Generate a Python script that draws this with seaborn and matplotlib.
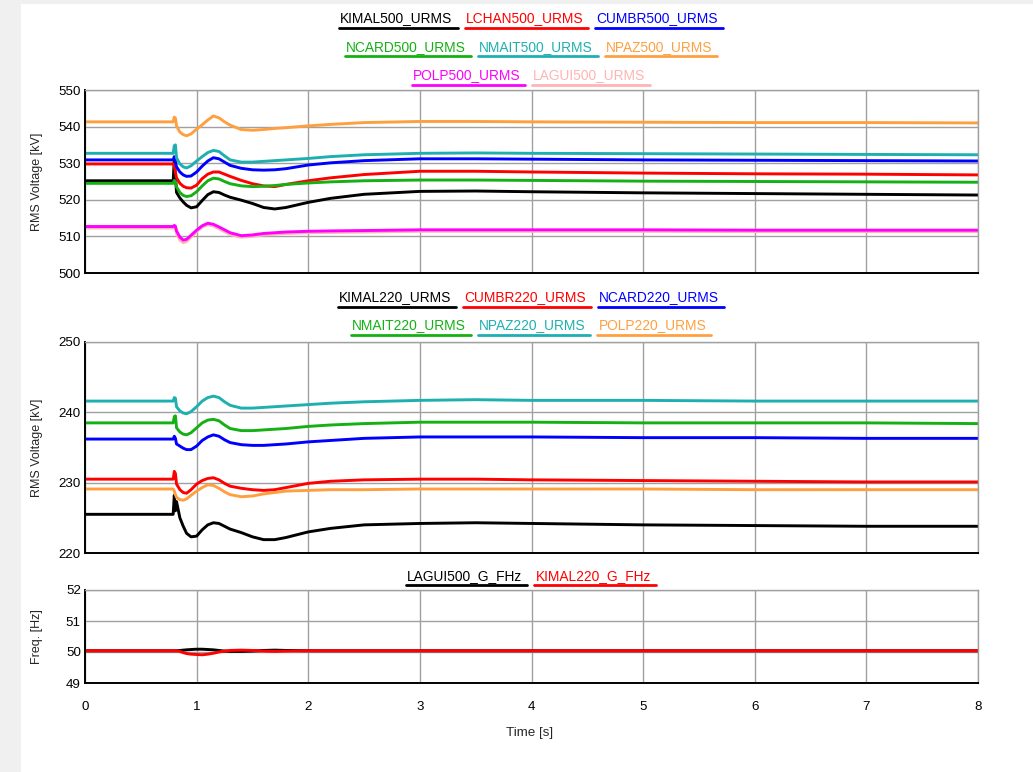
import numpy as np
import pandas as pd
import matplotlib
matplotlib.use("Agg")
import matplotlib.pyplot as plt
from matplotlib.lines import Line2D
from matplotlib.patches import Rectangle
import seaborn as sns

sns.set_style("white")
plt.rcParams['font.family'] = ['Liberation Sans', 'DejaVu Sans']

# ---------------- data ----------------
time_s = [0, 0.79, 0.80, 0.81, 0.82, 0.85, 0.88, 0.91, 0.95, 1.00, 1.05, 1.10, 1.15, 1.20,
          1.25, 1.30, 1.40, 1.50, 1.60, 1.70, 1.80, 2.00, 2.20, 2.50, 3.00, 3.50, 4.00,
          5.00, 6.00, 7.00, 8.00]

# 500 kV buses
KIMAL500 = [525.2, 525.2, 531.0, 526.5, 522.0, 520.5, 519.4, 518.5, 517.8, 518.1, 519.8, 521.4, 522.2, 522.0,
            521.3, 520.7, 519.9, 519.0, 517.9, 517.5, 517.9, 519.3, 520.4, 521.5, 522.3, 522.4, 522.2,
            521.9, 521.7, 521.5, 521.3]
LCHAN500 = [529.8, 529.8, 529.2, 527.5, 526.0, 524.5, 523.7, 523.3, 523.2, 524.0, 525.8, 527.0, 527.6, 527.6,
            527.0, 526.4, 525.3, 524.4, 523.8, 523.6, 524.2, 525.2, 526.0, 526.9, 527.8, 527.8, 527.6,
            527.3, 527.1, 527.0, 526.8]
CUMBR500 = [530.9, 530.9, 531.8, 530.5, 529.0, 527.6, 526.8, 526.4, 526.5, 527.6, 529.2, 530.6, 531.5, 531.2,
            530.3, 529.4, 528.6, 528.2, 528.1, 528.2, 528.5, 529.5, 530.1, 530.7, 531.2, 531.2, 531.1,
            530.9, 530.8, 530.7, 530.6]
NCARD500 = [524.5, 524.5, 525.3, 525.0, 523.5, 522.0, 521.2, 520.9, 521.1, 522.2, 523.8, 525.2, 525.9, 525.7,
            525.0, 524.4, 523.8, 523.6, 523.7, 523.9, 524.2, 524.6, 524.9, 525.2, 525.4, 525.4, 525.3,
            525.1, 525.0, 524.9, 524.8]
NMAIT500 = [532.7, 532.7, 534.8, 535.0, 531.5, 529.8, 529.0, 528.7, 529.3, 530.6, 531.8, 532.9, 533.5, 533.2,
            532.0, 530.9, 530.3, 530.3, 530.5, 530.7, 530.9, 531.3, 531.8, 532.3, 532.7, 532.8, 532.7,
            532.6, 532.5, 532.4, 532.3]
NPAZ500 = [541.3, 541.3, 542.6, 542.3, 540.2, 538.5, 537.8, 537.5, 538.0, 539.3, 540.5, 541.8, 542.9, 542.4,
           541.3, 540.4, 539.2, 539.0, 539.2, 539.5, 539.7, 540.2, 540.6, 541.1, 541.4, 541.4, 541.3,
           541.2, 541.1, 541.1, 541.0]
POLP500 = [512.7, 512.7, 513.0, 512.8, 511.5, 509.8, 509.0, 509.2, 510.3, 511.7, 512.9, 513.6, 513.3, 512.6,
           511.8, 511.0, 510.2, 510.4, 510.8, 511.0, 511.2, 511.4, 511.5, 511.6, 511.8, 511.8, 511.8,
           511.8, 511.7, 511.7, 511.7]
LAGUI500 = [512.3, 512.3, 512.8, 512.2, 510.8, 509.0, 508.3, 508.6, 509.8, 511.3, 512.6, 513.2, 512.9, 512.1,
            511.3, 510.5, 509.8, 510.0, 510.4, 510.6, 510.8, 511.0, 511.1, 511.2, 511.4, 511.4, 511.4,
            511.4, 511.3, 511.3, 511.3]

# 220 kV buses
KIMAL220 = [225.5, 225.5, 228.2, 226.0, 227.3, 225.0, 223.8, 222.8, 222.3, 222.4, 223.3, 224.0, 224.3, 224.2,
            223.8, 223.4, 222.9, 222.3, 221.9, 221.9, 222.2, 223.0, 223.5, 224.0, 224.2, 224.3, 224.2,
            224.0, 223.9, 223.8, 223.8]
CUMBR220 = [230.5, 230.5, 231.6, 231.3, 229.8, 229.0, 228.6, 228.5, 229.0, 229.8, 230.3, 230.6, 230.7, 230.4,
            229.9, 229.5, 229.2, 229.0, 228.9, 229.0, 229.3, 229.9, 230.2, 230.4, 230.5, 230.5, 230.4,
            230.3, 230.2, 230.1, 230.1]
NCARD220 = [236.2, 236.2, 236.6, 236.3, 235.5, 235.2, 234.9, 234.7, 234.7, 235.2, 236.0, 236.5, 236.8, 236.6,
            236.1, 235.7, 235.4, 235.3, 235.3, 235.4, 235.5, 235.8, 236.0, 236.3, 236.5, 236.5, 236.5,
            236.4, 236.4, 236.3, 236.3]
NMAIT220 = [238.5, 238.5, 239.4, 239.5, 237.8, 237.2, 236.9, 236.8, 237.1, 237.8, 238.5, 238.9, 239.0, 238.8,
            238.2, 237.7, 237.4, 237.4, 237.5, 237.6, 237.7, 238.0, 238.2, 238.4, 238.6, 238.6, 238.6,
            238.5, 238.5, 238.5, 238.4]
NPAZ220 = [241.6, 241.6, 242.1, 242.0, 240.8, 240.2, 239.9, 239.8, 240.1, 240.8, 241.6, 242.1, 242.3, 242.1,
           241.5, 241.0, 240.6, 240.6, 240.7, 240.8, 240.9, 241.1, 241.3, 241.5, 241.7, 241.8, 241.7,
           241.7, 241.6, 241.6, 241.6]
POLP220 = [229.1, 229.1, 228.8, 228.3, 227.9, 227.6, 227.5, 227.7, 228.2, 228.8, 229.3, 229.7, 229.6, 229.2,
           228.7, 228.3, 228.0, 228.1, 228.4, 228.6, 228.8, 228.9, 229.0, 229.0, 229.1, 229.1, 229.1,
           229.1, 229.0, 229.0, 229.0]

# frequencies
LAGUI500_G_FHz = [50.04, 50.04, 50.04, 50.04, 50.04, 50.05, 50.06, 50.07, 50.08, 50.09, 50.09, 50.08, 50.07, 50.05,
                  50.03, 50.02, 50.02, 50.03, 50.05, 50.06, 50.05, 50.04, 50.04, 50.04, 50.04, 50.04, 50.04,
                  50.04, 50.04, 50.04, 50.04]
KIMAL220_G_FHz = [50.04, 50.04, 50.04, 50.04, 50.04, 50.02, 49.98, 49.95, 49.93, 49.92, 49.91, 49.93, 49.96, 50.00,
                  50.03, 50.05, 50.06, 50.05, 50.03, 50.02, 50.03, 50.04, 50.04, 50.04, 50.04, 50.04, 50.04,
                  50.04, 50.04, 50.04, 50.04]

panel1 = {"KIMAL500_URMS": KIMAL500, "LCHAN500_URMS": LCHAN500, "CUMBR500_URMS": CUMBR500,
          "NCARD500_URMS": NCARD500, "NMAIT500_URMS": NMAIT500, "NPAZ500_URMS": NPAZ500,
          "POLP500_URMS": POLP500, "LAGUI500_URMS": LAGUI500}
panel2 = {"KIMAL220_URMS": KIMAL220, "CUMBR220_URMS": CUMBR220, "NCARD220_URMS": NCARD220,
          "NMAIT220_URMS": NMAIT220, "NPAZ220_URMS": NPAZ220, "POLP220_URMS": POLP220}
panel3 = {"LAGUI500_G_FHz": LAGUI500_G_FHz, "KIMAL220_G_FHz": KIMAL220_G_FHz}

legend1 = [["KIMAL500_URMS", "LCHAN500_URMS", "CUMBR500_URMS"],
           ["NCARD500_URMS", "NMAIT500_URMS", "NPAZ500_URMS"],
           ["POLP500_URMS", "LAGUI500_URMS"]]
legend2 = [["KIMAL220_URMS", "CUMBR220_URMS", "NCARD220_URMS"],
           ["NMAIT220_URMS", "NPAZ220_URMS", "POLP220_URMS"]]
legend3 = [["LAGUI500_G_FHz", "KIMAL220_G_FHz"]]

BLACK, RED, BLUE, GREEN = "#000000", "#ff0000", "#0000ff", "#14b014"
CYAN, ORANGE, MAGENTA, PINK = "#1eb0b0", "#ffa040", "#ff00ff", "#ffb4b4"
colors = {
    "KIMAL500_URMS": BLACK, "LCHAN500_URMS": RED, "CUMBR500_URMS": BLUE, "NCARD500_URMS": GREEN,
    "NMAIT500_URMS": CYAN, "NPAZ500_URMS": ORANGE, "POLP500_URMS": MAGENTA, "LAGUI500_URMS": PINK,
    "KIMAL220_URMS": BLACK, "CUMBR220_URMS": RED, "NCARD220_URMS": BLUE, "NMAIT220_URMS": GREEN,
    "NPAZ220_URMS": CYAN, "POLP220_URMS": ORANGE,
    "LAGUI500_G_FHz": BLACK, "KIMAL220_G_FHz": RED,
}

# ---------------- figure ----------------
W, H = 1033, 772
fig = plt.figure(figsize=(W / 100, H / 100), dpi=100)
fig.patch.set_facecolor("#f0f0f0")
fig.add_artist(Rectangle((21 / W, 0), 1, (H - 4) / H, transform=fig.transFigure,
                         facecolor="white", edgecolor="none", zorder=-10))

left, right = 85, 978
def add_axes(top, bottom):
    return fig.add_axes([left / W, 1 - bottom / H, (right - left) / W, (bottom - top) / H])

ax1 = add_axes(90, 273)
ax2 = add_axes(342, 553)
ax3 = add_axes(590, 683)

GRID = "#a0a0a0"
FS = 9.6
LFS = 9.9

def draw_panel(ax, series, order, ylim, yticks, ylabel):
    frames = [pd.DataFrame({"t": time_s, "v": series[n], "series": n}) for n in order]
    df = pd.concat(frames, ignore_index=True)
    sns.lineplot(data=df, x="t", y="v", hue="series", hue_order=order,
                 palette={n: colors[n] for n in order}, estimator=None, sort=False,
                 linewidth=2.1, legend=False, ax=ax)
    ax.set_xlim(0, 8)
    ax.set_ylim(*ylim)
    ax.set_xticks(range(0, 9))
    ax.set_yticks(yticks)
    ax.set_axisbelow(True)
    ax.grid(True, color=GRID, linewidth=1.0)
    for s in ("top", "right"):
        ax.spines[s].set_color(GRID)
        ax.spines[s].set_linewidth(1.0)
    for s in ("left", "bottom"):
        ax.spines[s].set_color("black")
        ax.spines[s].set_linewidth(1.4)
    ax.tick_params(axis="both", length=0, labelsize=FS, colors="black")
    ax.tick_params(axis="y", pad=3)
    ax.set_ylabel(ylabel, fontsize=9.0)
    ax.yaxis.label.set_va("center")
    ax.yaxis.set_label_coords((37 - left) / (right - left), 0.5)
    ax.set_xlabel("")

order1 = ["KIMAL500_URMS", "LCHAN500_URMS", "CUMBR500_URMS", "NCARD500_URMS",
          "NMAIT500_URMS", "NPAZ500_URMS", "LAGUI500_URMS", "POLP500_URMS"]
order2 = ["KIMAL220_URMS", "CUMBR220_URMS", "NCARD220_URMS", "NMAIT220_URMS",
          "NPAZ220_URMS", "POLP220_URMS"]
order3 = ["LAGUI500_G_FHz", "KIMAL220_G_FHz"]

draw_panel(ax1, panel1, order1, (500, 550), range(500, 551, 10), "RMS Voltage [kV]")
draw_panel(ax2, panel2, order2, (220, 250), range(220, 251, 10), "RMS Voltage [kV]")
draw_panel(ax3, panel3, order3, (49, 52), range(49, 53), "Freq. [Hz]")

ax1.tick_params(axis="x", labelbottom=False)
ax2.tick_params(axis="x", labelbottom=False)
ax3.tick_params(axis="x", pad=13)
ax3.set_xlabel("Time [s]", fontsize=FS)
ax3.xaxis.label.set_va("center")
ax3.xaxis.set_label_coords((530 - left) / (right - left), -(733 - 683) / (683 - 590))

# ---------------- custom legends (text with coloured underline) ----------------
renderer = fig.canvas.get_renderer()
cx = (left + right) / 2

def legend_rows(rows, ys):
    for row, y in zip(rows, ys):
        texts, widths = [], []
        for name in row:
            t = fig.text(0, 1 - y / H, name, color=colors[name], fontsize=LFS,
                         ha="left", va="center")
            texts.append(t)
            widths.append(t.get_window_extent(renderer).width)
        ext, gap = 5, 8
        total = sum(w + ext for w in widths) + gap * (len(row) - 1)
        x = cx - total / 2
        for t, w, name in zip(texts, widths, row):
            t.set_x(x / W)
            yl = 1 - (y + 9) / H
            fig.add_artist(Line2D([(x - 1) / W, (x + w + ext) / W], [yl, yl],
                                  color=colors[name], linewidth=2.0,
                                  transform=fig.transFigure))
            x += w + ext + gap

legend_rows(legend1, [18.5, 47, 75.5])
legend_rows(legend2, [297.5, 325.5])
legend_rows(legend3, [576])

fig.savefig("out.png", dpi=100, facecolor=fig.get_facecolor())
